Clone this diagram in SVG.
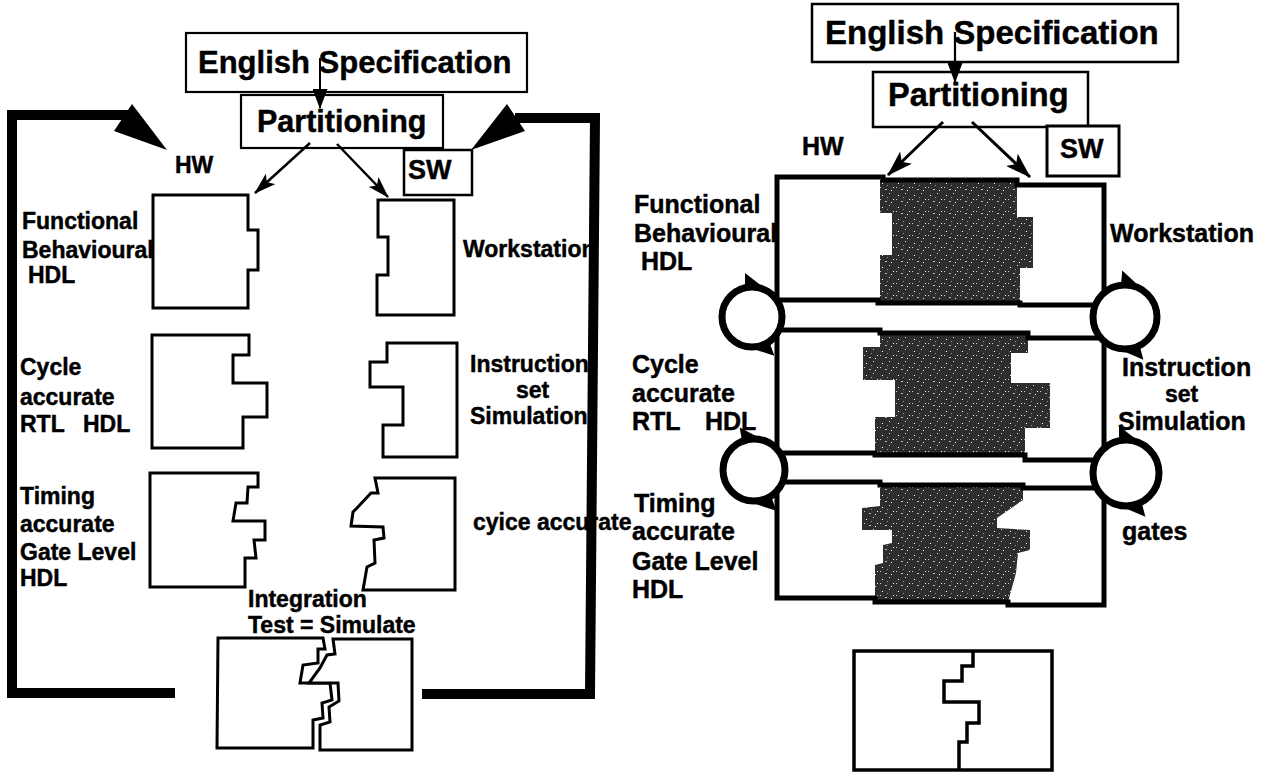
<svg xmlns="http://www.w3.org/2000/svg" width="1268" height="776" viewBox="0 0 1268 776">
<style>
text{font-family:"Liberation Sans",Arial,sans-serif;font-weight:bold;fill:#000;stroke:#000;stroke-width:0.45}
.l{font-size:23px}
.r{font-size:25px}
.box{fill:#fff;stroke:#000;stroke-width:2.2}
.shape{fill:#fff;stroke:#000;stroke-width:3;stroke-linejoin:miter}
.row{fill:none;stroke:#000;stroke-width:5}
.rowbg{fill:#fff;stroke:none}
.dark{fill:url(#speck);stroke:none}
.conn{fill:none;stroke:#000;stroke-width:2.5}
.big{fill:none;stroke:#000;stroke-width:10;stroke-linejoin:miter}
.loop{fill:#fff;stroke:#000;stroke-width:7}
</style>
<defs>
<pattern id="speck" width="16" height="12" patternUnits="userSpaceOnUse">
<rect width="16" height="12" fill="#2e2e2e"/>
<rect x="2" y="3" width="1" height="1" fill="#fff"/>
<rect x="9" y="1" width="1" height="1" fill="#ddd"/>
<rect x="13" y="7" width="1" height="1" fill="#fff"/>
<rect x="5" y="9" width="2" height="1" fill="#bbb"/>
<rect x="11" y="10" width="1" height="1" fill="#eee"/>
<rect x="7" y="5" width="1" height="1" fill="#999"/>
<rect x="0" y="7" width="1" height="1" fill="#ccc"/>
</pattern>
<marker id="ah" viewBox="0 0 22 14" markerWidth="22" markerHeight="14" refX="21" refY="7" orient="auto" markerUnits="userSpaceOnUse"><path d="M0,0 L22,7 L0,14 L5,7 Z"/></marker>
<marker id="ahL" viewBox="0 0 26 17" markerWidth="26" markerHeight="17" refX="25" refY="8.5" orient="auto" markerUnits="userSpaceOnUse"><path d="M0,0 L26,8.5 L0,17 L6,8.5 Z"/></marker>
<marker id="ahv" viewBox="0 0 20 15" markerWidth="20" markerHeight="15" refX="19" refY="7.5" orient="auto" markerUnits="userSpaceOnUse"><path d="M0,0 L20,7.5 L0,15 Z"/></marker>
<path id="lh" d="M-7,-14 L11,0 L-7,4 Z"/>
</defs>
<rect width="1268" height="776" fill="#fff"/>

<!-- LEFT PANEL -->
<g id="L-labels">
<text class="l" x="175" y="173">HW</text>
<text class="l" x="22" y="229">Functional</text>
<text class="l" x="22" y="258">Behavioural</text>
<text class="l" x="28" y="283">HDL</text>
<text class="l" x="463" y="257">Workstation</text>
<text class="l" x="20" y="375">Cycle</text>
<text class="l" x="20" y="405">accurate</text>
<text class="l" x="20" y="432">RTL</text>
<text class="l" x="83" y="432">HDL</text>
<text class="l" x="470" y="372">Instruction</text>
<text class="l" x="516" y="398">set</text>
<text class="l" x="470" y="424">Simulation</text>
<text class="l" x="20" y="504">Timing</text>
<text class="l" x="20" y="532">accurate</text>
<text class="l" x="20" y="560">Gate Level</text>
<text class="l" x="20" y="586">HDL</text>
<text class="l" x="473" y="530">cyice accurate</text>
<text class="l" x="248" y="607">Integration</text>
<text class="l" x="248" y="633">Test = Simulate</text>
</g>
<g id="L-english"><rect class="box" x="186" y="33" width="341" height="59"/><text x="198" y="73" style="font-size:31px">English Specification</text></g>
<g id="L-partitioning"><rect class="box" x="241" y="95" width="202" height="53"/><text x="257" y="132" style="font-size:30.5px">Partitioning</text></g>
<g id="L-sw"><rect class="box" x="404" y="150" width="68" height="45" style="stroke-width:2.5"/><text x="408" y="179" style="font-size:27px">SW</text></g>
<g id="L-hw1"><path class="shape" d="M153,195 H248 V230 H258 V270 H248 V308 H153 Z"/></g>
<g id="L-sw1"><path class="shape" d="M378,200 H454 V315 H377 V275 H388 V237 H378 Z"/></g>
<g id="L-hw2"><path class="shape" d="M152,335 H249 V355 H233 V383 H267 V417 H243 V448 H152 Z"/></g>
<g id="L-sw2"><path class="shape" d="M387,343 H457 V457 H383 V425 H403 V387 H370 V362 H387 Z"/></g>
<g id="L-hw3"><path class="shape" d="M150,473 H258 V487 H248 L247,503 H236 L233,521 H265 V540 H254 L256,558 H245 V587 H150 Z"/></g>
<g id="L-sw3"><path class="shape" d="M375,478 H455 V590 H363 L367,567 L375,563 L374,540 L384,538 L383,527 L351,526 L353,512 L357,508 L371,493 L378,493 Z"/></g>
<g id="L-integration">
<path class="shape" d="M218,638 H323 L325,649 H318 V663 L303,665 L300,683 H330 L332,700 L322,703 L323,718 L313,720 V748 H217 Z"/>
<path class="shape" d="M333,639 H412 V750 H320 V725 L330,722 L329,707 L339,701 L338,683 H309 L320,668 L327,655 L335,654 Z"/>
</g>

<!-- RIGHT PANEL -->
<g id="R-labels">
<text class="r" x="802" y="155">HW</text>
<text class="r" x="634" y="213">Functional</text>
<text class="r" x="634" y="242">Behavioural</text>
<text class="r" x="641" y="270">HDL</text>
<text class="r" x="1110" y="242">Workstation</text>
<text class="r" x="632" y="373">Cycle</text>
<text class="r" x="632" y="402">accurate</text>
<text class="r" x="632" y="430">RTL</text>
<text class="r" x="705" y="430">HDL</text>
<text class="r" x="1122" y="376">Instruction</text>
<text x="1165" y="402" style="font-size:23px">set</text>
<text class="r" x="1118" y="430">Simulation</text>
<text class="r" x="634" y="512">Timing</text>
<text class="r" x="632" y="540">accurate</text>
<text class="r" x="632" y="570">Gate Level</text>
<text class="r" x="632" y="598">HDL</text>
<text class="r" x="1122" y="540">gates</text>
</g>
<g id="R-english"><rect class="box" x="812" y="4" width="366" height="58" style="stroke-width:2.5"/><text x="825" y="44" style="font-size:33px">English Specification</text></g>
<g id="R-partitioning"><rect class="box" x="873" y="72" width="215" height="55" style="stroke-width:2.5"/><text x="888" y="106" style="font-size:32.5px">Partitioning</text></g>
<g id="R-sw"><rect class="box" x="1047" y="126" width="72" height="50" style="stroke-width:3"/><text x="1060" y="158" style="font-size:27px">SW</text></g>
<g id="R-row1">
<path class="rowbg" d="M777,177 H883 V180 H1017 V185 H1104 V305 H1020 V303 H878 V300 H777 Z"/>
<path class="dark" d="M880,180 H1017 V217 H1033 V268 H1020 V303 H880 V255 H892 V213 H880 Z"/>
<path class="row" d="M777,177 H883 V180 H1017 V185 H1104 V305 H1020 V303 H878 V300 H777 Z"/>
</g>
<g id="R-row2">
<path class="rowbg" d="M777,330 H880 V333 H1028 V338 H1104 V460 H1025 V455 H875 V453 H777 Z"/>
<path class="dark" d="M880,333 H1028 V353 H1011 V383 H1050 V428 H1025 V455 H875 V417 H895 V380 H863 V347 H880 Z"/>
<path class="row" d="M777,330 H880 V333 H1028 V338 H1104 V460 H1025 V455 H875 V453 H777 Z"/>
</g>
<g id="R-row3">
<path class="rowbg" d="M777,482 H880 V485 H1023 V488 H1104 V605 H1008 V602 H875 V598 H777 Z"/>
<path class="dark" d="M880,485 H1023 V500 L997,518 V528 L1030,530 V550 L1018,553 L1016,573 L1008,602 H875 V565 L883,563 V545 L892,543 V530 H862 V508 L880,506 Z"/>
<path class="row" d="M777,482 H880 V485 H1023 V488 H1104 V605 H1008 V602 H875 V598 H777 Z"/>
</g>
<g id="R-integration">
<rect x="854" y="651" width="198" height="119" fill="#fff" stroke="#000" stroke-width="3.5"/>
<path d="M973,651 V666 H962 V681 H944 V702 H979 V723 H967 V742 H959 V770" fill="none" stroke="#000" stroke-width="3.5"/>
</g>

<!-- CONNECTORS -->
<g id="connectors">
<path class="big" d="M175,693 H12 V115 H128"/>
<polygon points="132,104 167,150 114,131"/>
<path class="big" d="M422,694 H590 L595,118 H515"/>
<polygon points="507,104 471,150 525,131"/>
<line class="conn" x1="320" y1="58" x2="320" y2="108" marker-end="url(#ahv)" style="stroke-width:2"/>
<line class="conn" x1="310" y1="143" x2="255" y2="193" marker-end="url(#ah)"/>
<line class="conn" x1="337" y1="144" x2="388" y2="197" marker-end="url(#ah)"/>
<line class="conn" x1="955" y1="32" x2="955" y2="82" marker-end="url(#ahv)" style="stroke-width:2.2"/>
<line class="conn" x1="943" y1="122" x2="888" y2="175" marker-end="url(#ahL)" style="stroke-width:3"/>
<line class="conn" x1="972" y1="122" x2="1030" y2="177" marker-end="url(#ahL)" style="stroke-width:3"/>
<g id="loopA"><circle class="loop" cx="752" cy="317" r="30"/><use href="#lh" transform="translate(752,287) rotate(0)"/><use href="#lh" transform="translate(763,345) rotate(160)"/></g>
<g id="loopB"><circle class="loop" cx="1125" cy="317" r="32"/><use href="#lh" transform="translate(1128,285) rotate(5)"/><use href="#lh" transform="translate(1133,348) rotate(165)"/></g>
<g id="loopC"><circle class="loop" cx="754" cy="470" r="31"/><use href="#lh" transform="translate(749,440) rotate(-10)"/><use href="#lh" transform="translate(765,500) rotate(160)"/></g>
<g id="loopD"><circle class="loop" cx="1126" cy="473" r="33"/><use href="#lh" transform="translate(1126,440) rotate(0)"/><use href="#lh" transform="translate(1135,505) rotate(165)"/></g>
</g>
</svg>
